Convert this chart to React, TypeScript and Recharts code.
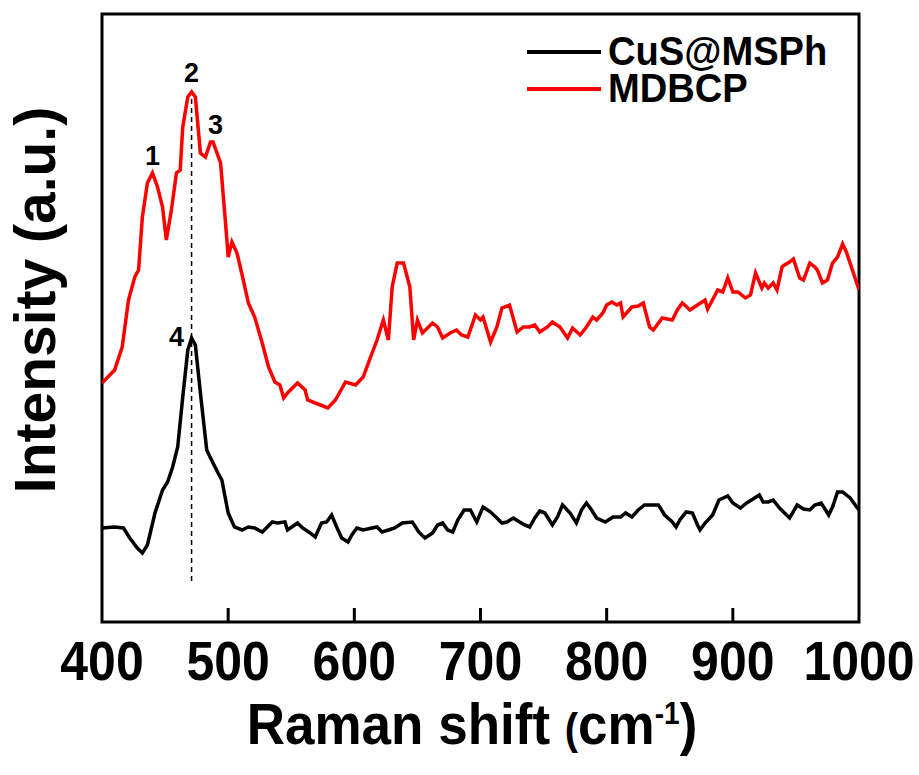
import React from 'react';
import {
  LineChart, Line, XAxis, YAxis, ReferenceLine, ReferenceDot, ReferenceArea,
} from 'recharts';

// Raman shift (cm-1) and intensity (a.u.)
const MDBCP_X = [
  400, 410, 416, 421, 426, 429, 432, 436, 440, 444, 448, 451, 455, 459, 462, 464, 468, 471, 474, 478,
  482, 486, 488, 494, 499, 500, 503, 507, 512, 516, 521, 527, 532, 537, 541, 544, 547, 555, 561, 563,
  569, 579, 585, 593, 601, 607, 612, 618, 623, 627, 630, 634, 639, 644, 647, 650, 654, 662, 666, 670,
  676, 681, 685, 690, 696, 700, 702, 708, 713, 717, 723, 729, 734, 739, 743, 747, 753, 757, 763, 769,
  773, 779, 784, 789, 792, 797, 800, 804, 808, 811, 813, 820, 825, 829, 834, 837, 844, 852, 856, 860,
  866, 872, 878, 880, 883, 888, 892, 896, 900, 904, 910, 914, 918, 923, 925, 928, 932, 935, 939, 941,
  945, 948, 953, 956, 961, 965, 967, 971, 975, 979, 983, 987, 990, 994, 1000,
];
const MDBCP_Y = [
  239, 252, 275, 322, 345, 352, 405, 439, 449, 435, 415, 382, 412, 449, 452, 495, 525, 530, 525, 469,
  465, 480, 480, 459, 382, 365, 380, 369, 342, 319, 305, 279, 255, 240, 237, 224, 229, 239, 232, 222,
  219, 214, 222, 240, 237, 245, 262, 282, 302, 282, 335, 359, 359, 335, 282, 302, 289, 299, 295, 284,
  289, 292, 287, 285, 307, 302, 305, 280, 295, 314, 317, 290, 295, 295, 297, 290, 295, 300, 295, 284,
  294, 287, 295, 305, 302, 309, 317, 320, 317, 319, 305, 315, 316, 319, 295, 292, 304, 302, 312, 319,
  312, 317, 322, 313, 320, 332, 330, 344, 330, 330, 324, 327, 349, 334, 339, 334, 339, 332, 355, 357,
  360, 363, 344, 342, 359, 355, 352, 339, 342, 359, 365, 378, 370, 355, 332,
];

const CUS_X = [
  400, 410, 417, 422, 428, 432, 436, 442, 448, 452, 456, 460, 464, 468, 471, 474, 478, 483, 488, 492,
  495, 500, 505, 511, 516, 521, 527, 535, 539, 545, 547, 555, 559, 565, 569, 574, 578, 582, 586, 590,
  595, 598, 602, 607, 614, 618, 622, 627, 632, 638, 646, 651, 656, 662, 666, 670, 674, 678, 682, 687,
  692, 697, 702, 708, 713, 717, 721, 726, 731, 735, 739, 743, 747, 751, 757, 761, 765, 771, 776, 780,
  784, 788, 792, 799, 805, 811, 815, 820, 825, 830, 836, 841, 846, 852, 855, 858, 863, 868, 872, 874,
  878, 884, 889, 896, 900, 906, 911, 916, 921, 924, 928, 932, 937, 941, 945, 951, 956, 961, 965, 970,
  976, 979, 983, 987, 993, 997, 1000,
];
const CUS_Y = [
  94, 95, 94, 84, 74, 69, 77, 109, 132, 140, 155, 175, 225, 272, 284, 277, 229, 172, 159, 149,
  142, 109, 95, 92, 95, 94, 90, 100, 99, 100, 92, 99, 94, 89, 85, 99, 100, 107, 95, 84,
  80, 87, 94, 92, 94, 95, 90, 92, 94, 99, 100, 90, 84, 89, 97, 99, 92, 90, 102, 112,
  112, 100, 115, 110, 104, 99, 100, 104, 100, 97, 95, 104, 111, 109, 97, 105, 117, 109, 99, 112,
  119, 112, 104, 100, 105, 105, 109, 105, 112, 117, 117, 117, 107, 100, 95, 102, 110, 109, 97, 92,
  99, 107, 122, 126, 119, 114, 119, 123, 127, 120, 120, 122, 114, 109, 104, 117, 113, 112, 117, 119,
  107, 115, 130, 130, 124, 117, 112,
];

const X_TICKS = [400, 500, 600, 700, 800, 900, 1000];
const TICK_LEN = 14;
const PEAK_LABELS = ['1', '2', '3', '4'];
const PEAK_X = [440, 471, 490, 459];
const PEAK_Y = [467, 550, 498, 286];
const SERIES = [
  { name: 'CuS@MSPh', color: '#000000' },
  { name: 'MDBCP', color: '#ff0000' },
];

const mdbcp = MDBCP_X.map((x, i) => ({ x, y: MDBCP_Y[i] }));
const cus = CUS_X.map((x, i) => ({ x, y: CUS_Y[i] }));

const FONT = '"Liberation Sans", Arial, sans-serif';
const Y_DOMAIN: [number, number] = [0, 608];

function XTick(props: any) {
  const { x, y, payload } = props;
  const ty = y + 56;
  return (
    <text x={x} y={ty} textAnchor="middle" fontFamily={FONT} fontWeight="bold" fontSize={50} fill="#000"
      transform={`translate(0 ${-ty * 0.12}) scale(1 1.12)`}>
      {payload.value}
    </text>
  );
}

// inward tick mark, drawn upward from the point where the dot sits on the axis
function TickMark(props: any) {
  const { cx, cy } = props;
  if (cx == null || cy == null) return null;
  return <rect x={cx - 1.5} y={cy - TICK_LEN} width={3} height={TICK_LEN} fill="#000" />;
}

export default function App() {
  return (
    <div style={{ position: 'absolute', left: 0, top: 0, width: 919, height: 775, background: '#fff' }}>
      <LineChart width={919} height={775} margin={{ top: 14, right: 60, left: 102, bottom: 93 }}>
        <XAxis type="number" dataKey="x" domain={[400, 1000]} ticks={X_TICKS} height={60}
          axisLine={false} tickLine={false} tickSize={0} tick={<XTick />} allowDataOverflow />
        <YAxis type="number" domain={Y_DOMAIN} width={0} hide />
        <ReferenceArea x1={400} x2={1000} y1={Y_DOMAIN[0]} y2={Y_DOMAIN[1]} fill="none" fillOpacity={0}
          stroke="#000" strokeWidth={3} />
        {X_TICKS.slice(1, -1).map((t) => (
          <ReferenceDot key={t} x={t} y={Y_DOMAIN[0]} r={3} ifOverflow="visible" shape={<TickMark />} />
        ))}
        <ReferenceLine segment={[{ x: 471, y: 532 }, { x: 471, y: 37 }]} stroke="#000" strokeWidth={1.5} strokeDasharray="5 4" />
        <Line data={cus} dataKey="y" name={SERIES[0].name} stroke={SERIES[0].color} strokeWidth={3.5}
          dot={false} isAnimationActive={false} type="linear" />
        <Line data={mdbcp} dataKey="y" name={SERIES[1].name} stroke={SERIES[1].color} strokeWidth={3.5}
          dot={false} isAnimationActive={false} type="linear" />
        {PEAK_LABELS.map((l, i) => (
          <ReferenceDot key={l} x={PEAK_X[i]} y={PEAK_Y[i]} r={0} stroke="none" fill="none"
            label={{ value: l, position: 'center', fontSize: 27, fontWeight: 'bold', fill: '#000', fontFamily: FONT }} />
        ))}
      </LineChart>
      <div style={{ position: 'absolute', left: 527, top: 33, fontFamily: FONT, fontWeight: 'bold', fontSize: 37, lineHeight: '37px' }}>
        {SERIES.map((s) => (
          <div key={s.name} style={{ display: 'flex', alignItems: 'center', height: 37 }}>
            <span style={{ display: 'inline-block', width: 74, height: 4, background: s.color, marginRight: 7 }} />
            <span style={{ display: 'inline-block', lineHeight: '37px', height: 37, transform: 'scale(1.03, 1.08)', transformOrigin: 'left center' }}>{s.name}</span>
          </div>
        ))}
      </div>
      <div style={{ position: 'absolute', left: 35, top: 300, transform: 'translate(-50%, -50%) rotate(-90deg)',
        whiteSpace: 'nowrap', fontFamily: FONT, fontWeight: 'bold', fontSize: 57 }}>
        Intensity (a.u.)
      </div>
      <div style={{ position: 'absolute', left: 472, top: 724, transform: 'translate(-50%, -50%) scale(1, 1.1)',
        whiteSpace: 'nowrap', fontFamily: FONT, fontWeight: 'bold', fontSize: 53 }}>
        Raman shift <span style={{ fontSize: 40 }}>(</span>cm<sup style={{ fontSize: 28 }}>-1</sup>)
      </div>
    </div>
  );
}
